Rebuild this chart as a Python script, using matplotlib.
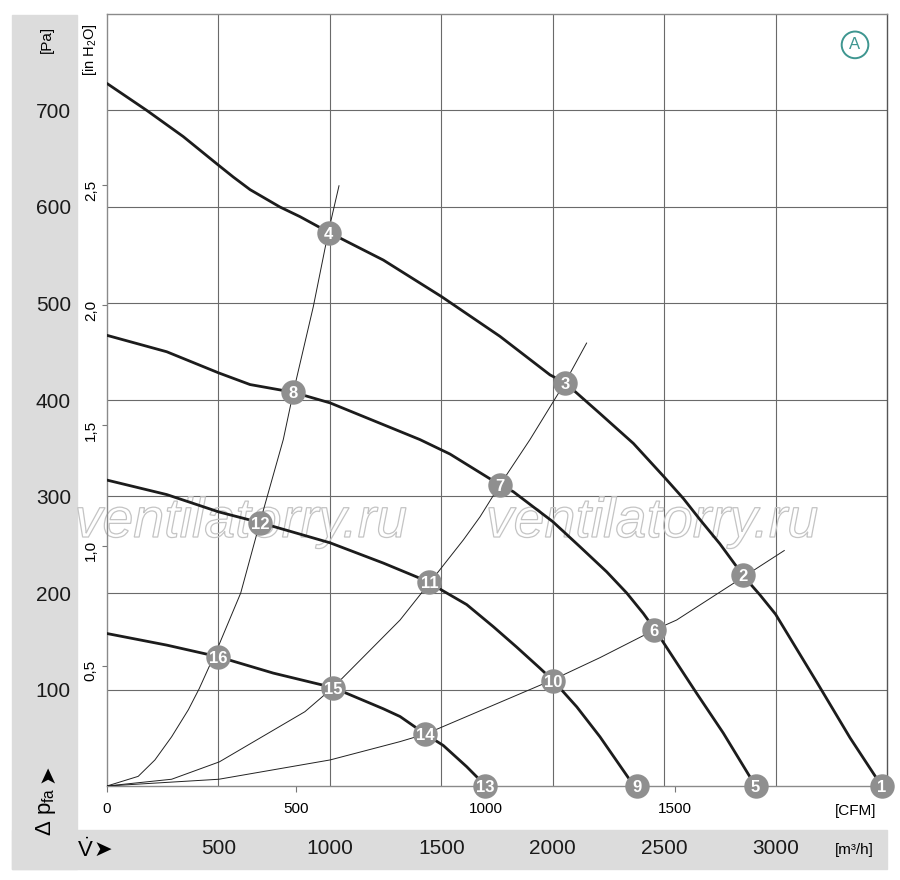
import matplotlib
matplotlib.use('Agg')
import matplotlib.pyplot as plt
from matplotlib import patheffects
from matplotlib.patches import Rectangle

plt.rcParams['font.family'] = ['Liberation Sans', 'DejaVu Sans']
plt.rcParams['mathtext.fontset'] = 'custom'
plt.rcParams['mathtext.rm'] = 'Liberation Sans'
plt.rcParams['mathtext.it'] = 'Liberation Sans:italic'
plt.rcParams['mathtext.bf'] = 'Liberation Sans:bold'

# fan curves: flow [m3/h], static pressure [Pa]
q1 = [0, 179, 342, 502, 567, 642, 776, 866, 993, 1240, 1502, 1763, 1988, 2055, 2212,
      2362, 2501, 2586, 2661, 2750, 2858, 2930, 3000, 3184, 3334, 3476]
p1 = [728, 700, 673, 643, 631, 618, 600, 590, 574, 545, 507, 466, 426, 418, 386,
      355, 320, 298, 276, 251, 217, 198, 178, 108, 50, 0]

q2 = [0, 268, 502, 642, 836, 1001, 1404, 1539, 1763, 1823, 2000, 2122, 2242, 2332,
      2406, 2459, 2646, 2765, 2910]
p2 = [467, 450, 428, 416, 408, 397, 359, 344, 312, 305, 274, 248, 222, 200,
      179, 162, 96, 55, 0]

q3 = [0, 268, 502, 686, 1001, 1240, 1449, 1502, 1614, 1734, 1838, 1943, 2003, 2108,
      2212, 2347, 2380]
p3 = [317, 302, 284, 273, 252, 231, 211, 203, 188, 165, 144, 122, 109, 82,
      51, 6, 0]

q4 = [0, 268, 498, 746, 1014, 1240, 1315, 1427, 1509, 1614, 1700]
p4 = [158, 146, 134, 117, 102, 80, 72, 54, 42, 20, 0]

# system curves
qa = [0, 140, 215, 290, 365, 414, 502, 600, 686, 791, 836, 926, 993, 1041]
pa = [0, 10, 27, 51, 79, 101, 146, 200, 273, 359, 408, 497, 574, 622]

qb = [0, 290, 504, 888, 1014, 1315, 1449, 1599, 1674, 1763, 1898, 2055, 2152]
pb = [0, 7, 25, 77, 102, 172, 211, 255, 279, 312, 359, 418, 459]

qc = [0, 502, 1001, 1315, 1431, 2000, 2212, 2459, 2556, 2858, 3039]
pc = [0, 7, 27, 46, 54, 110, 133, 162, 172, 217, 244]

# operating points
mk_num = [1, 2, 3, 4, 5, 6, 7, 8, 9, 10, 11, 12, 13, 14, 15, 16]
mk_q = [3476, 2855, 2055, 995, 2910, 2456, 1763, 835, 2380, 2001, 1447, 686, 1698, 1428, 1014, 497]
mk_p = [0, 219, 418, 573, 0, 162, 312, 408, 0, 109, 211, 273, 0, 54, 102, 134]

# axis ticks
q_ticks = [500, 1000, 1500, 2000, 2500, 3000]
q_labels = ['500', '1000', '1500', '2000', '2500', '3000']
p_ticks = [100, 200, 300, 400, 500, 600, 700]
p_labels = ['100', '200', '300', '400', '500', '600', '700']
inh_ticks = [0.5, 1.0, 1.5, 2.0, 2.5]
inh_labels = ['0,5', '1,0', '1,5', '2,0', '2,5']
cfm_ticks = [0, 500, 1000, 1500]
cfm_labels = ['0', '500', '1000', '1500']

W, H = 900, 880
fig = plt.figure(figsize=(W / 100, H / 100), dpi=100)


def fx(px):
    return px / W


def fy(py):
    return 1 - py / H


grey = '#dcdcdc'
fig.patches.append(Rectangle((fx(12), fy(869)), fx(77) - fx(12), fy(15) - fy(869),
                             transform=fig.transFigure, color=grey, zorder=-1))
fig.patches.append(Rectangle((fx(12), fy(869)), fx(887) - fx(12), fy(830) - fy(869),
                             transform=fig.transFigure, color=grey, zorder=-1))

ax = fig.add_axes([fx(107), fy(786), fx(887) - fx(107), fy(14) - fy(786)])
ax.set_xlim(0, 3500)
ax.set_ylim(0, 800)

for q, p in [(q1, p1), (q2, p2), (q3, p3), (q4, p4)]:
    ax.plot(q, p, color='#1c1c1c', lw=2.0, solid_capstyle='round', zorder=3)
for q, p in [(qa, pa), (qb, pb), (qc, pc)]:
    ax.plot(q, p, color='#222222', lw=0.7, zorder=2.6)

ax.scatter(mk_q, mk_p, s=310, c='#8f8f8f', linewidths=0, zorder=5, clip_on=False)
for n, q, p in zip(mk_num, mk_q, mk_p):
    ax.text(q, p, str(n), color='white', fontsize=12, ha='center', va='center_baseline',
            family=['Liberation Sans Narrow', 'Liberation Sans'], weight='bold', zorder=6)

# watermark
wm = [patheffects.PathPatchEffect(edgecolor='#c4c4c4', facecolor='none', linewidth=0.9)]
for q in [600, 2445]:
    ax.text(q, 258, 'ventilatorry.ru', fontsize=40, style='italic', ha='center',
            va='baseline', path_effects=wm, zorder=2.5)

ax.text(0.959, 0.960, 'A', transform=ax.transAxes, ha='center', va='center',
        color='#3e9690', fontsize=12,
        bbox=dict(boxstyle='circle,pad=0.35', fc='white', ec='#3e9690', lw=1.4))

sec_y = ax.secondary_yaxis('left', functions=(lambda p: p / 249.09, lambda i: i * 249.09))
sec_y.set_yticks(inh_ticks, labels=inh_labels)
sec_y.tick_params(length=3.6, width=0.8, color='#777777', pad=3, labelsize=11,
                  labelrotation=90)
sec_y.spines['left'].set_visible(False)

sec_x = ax.secondary_xaxis('bottom', functions=(lambda q: q / 1.699, lambda c: c * 1.699))
sec_x.set_xticks(cfm_ticks, labels=cfm_labels)
sec_x.tick_params(length=4.3, width=0.8, color='#777777', pad=7, labelsize=11)
sec_x.spines['bottom'].set_visible(False)

ax.set_xticks(q_ticks, labels=q_labels)
ax.set_yticks(p_ticks, labels=p_labels)
ax.tick_params(axis='both', length=0, labelsize=15, labelcolor='#1a1a1a',
               labelbottom=True, labelleft=True)
ax.tick_params(axis='x', pad=38)
ax.tick_params(axis='y', pad=26)
ax.grid(True, color='#6a6a6a', lw=0.8)
ax.set_axisbelow(True)
for s in ax.spines.values():
    s.set_color('#8a8a8a')
    s.set_linewidth(1.0)
ax.spines['right'].set_color('#555555')

arrow_font = ['DejaVu Sans']
fig.text(fx(47), fy(39), '[Pa]', rotation=90, ha='center', va='center', fontsize=11)
fig.text(fx(90), fy(50), '[in H$_2$O]', rotation=90, ha='center', va='center', fontsize=10.5)
fig.text(fx(46), fy(812), r'$\Delta$ p$_{\mathrm{fa}}$', rotation=90, ha='center',
         va='center', fontsize=16)
fig.text(fx(47), fy(774), '➤', rotation=90, ha='center', va='center', fontsize=16,
         family=arrow_font)
fig.text(fx(77), fy(850), r'$\dot{\mathrm{V}}$', ha='left', va='center', fontsize=16)
fig.text(fx(94), fy(850), '➤', ha='left', va='center', fontsize=16, family=arrow_font)
fig.text(fx(876), fy(811), '[CFM]', ha='right', va='center', fontsize=11)
fig.text(fx(874), fy(850), '[m³/h]', ha='right', va='center', fontsize=11)

fig.savefig('out.png', dpi=100)
